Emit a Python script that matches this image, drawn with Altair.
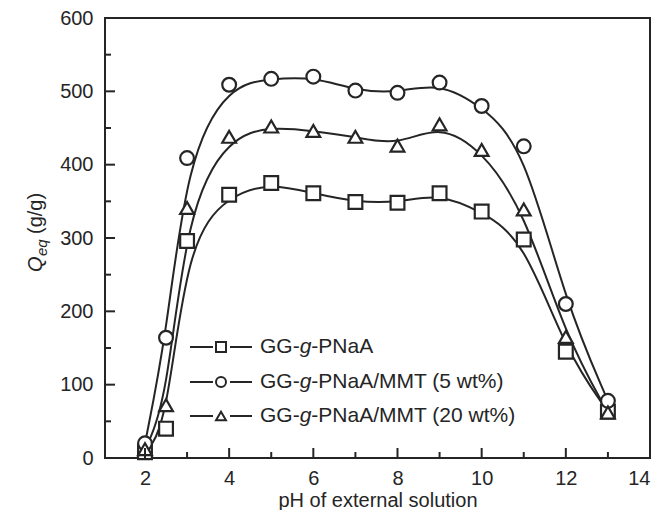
import altair as alt
import pandas as pd

# ---------------- data ----------------
series = ["GG-g-PNaA", "GG-g-PNaA/MMT (5 wt%)", "GG-g-PNaA/MMT (20 wt%)"]
shapes = ["square", "circle", "triangle-up"]
ph = [2, 2.5, 3, 4, 5, 6, 7, 8, 9, 10, 11, 12, 13]
q_pnaa = [8, 40, 296, 359, 375, 361, 349, 348, 361, 336, 298, 145, 63]
q_mmt5 = [20, 164, 409, 509, 517, 520, 501, 498, 512, 480, 425, 210, 78]
q_mmt20 = [12, 72, 341, 438, 452, 446, 438, 426, 455, 420, 339, 165, 62]

x_major = [2, 4, 6, 8, 10, 12]
x_minor = [3, 5, 7, 9, 11, 13]
y_major = [100, 200, 300, 400, 500]
y_minor = [50, 150, 250, 350, 450, 550]
x_labels = [2, 4, 6, 8, 10, 12, 14]
y_labels = [0, 100, 200, 300, 400, 500, 600]
x_title = "pH of external solution"

rows = []
for name, vals in zip(series, [q_pnaa, q_mmt5, q_mmt20]):
    for p, q in zip(ph, vals):
        rows.append({"series": name, "pH": p, "Q": q})
df = pd.DataFrame(rows)

INK = "#252525"
FONT = "Liberation Sans"
W, H = 545, 440

xscale = alt.Scale(domain=[1.05, 14], nice=False, zero=False)
yscale = alt.Scale(domain=[0, 600], nice=False)
xaxis = alt.Axis(values=x_labels, title=None, labelPadding=10, format="d")
yaxis = alt.Axis(values=y_labels, title=None, labelPadding=12, format="d")

base = alt.Chart(df)

lines = base.mark_line(interpolate="basis", color=INK, strokeWidth=2).encode(
    x=alt.X("pH:Q", scale=xscale, axis=xaxis),
    y=alt.Y("Q:Q", scale=yscale, axis=yaxis),
    detail="series:N",
)

points = base.mark_point(filled=True, fill="white", stroke=INK, strokeWidth=2.2,
                         size=190, opacity=1).encode(
    x=alt.X("pH:Q", scale=xscale, axis=xaxis),
    y=alt.Y("Q:Q", scale=yscale, axis=yaxis),
    shape=alt.Shape("series:N", scale=alt.Scale(domain=series, range=shapes), legend=None),
)

def xticks(vals, length):
    d = pd.DataFrame({"pH": vals})
    return alt.Chart(d).mark_rule(color=INK, strokeWidth=2).encode(
        x=alt.X("pH:Q", scale=xscale, axis=xaxis),
        y=alt.value(H), y2=alt.value(H - length))

def yticks(vals, length):
    d = pd.DataFrame({"Q": vals})
    return alt.Chart(d).mark_rule(color=INK, strokeWidth=2).encode(
        y=alt.Y("Q:Q", scale=yscale, axis=yaxis),
        x=alt.value(0), x2=alt.value(length))

layers = [lines, points,
          xticks(x_major, 10), xticks(x_minor, 6),
          yticks(y_major, 10), yticks(y_minor, 6)]

# ---------------- legend (manual, inside plot) ----------------
one = pd.DataFrame({"a": [0]})
row_y = [329, 364, 398]
LFS = 21
for name, shp, yy in zip(series, shapes, row_y):
    c = alt.Chart(one)
    layers.append(c.mark_rule(color=INK, strokeWidth=2).encode(
        x=alt.value(85), x2=alt.value(108), y=alt.value(yy)))
    layers.append(c.mark_rule(color=INK, strokeWidth=2).encode(
        x=alt.value(125), x2=alt.value(147), y=alt.value(yy)))
    layers.append(c.mark_point(shape=shp, filled=True, fill="white", stroke=INK,
                               strokeWidth=2, size=100, opacity=1).encode(
        x=alt.value(116), y=alt.value(yy)))
    p1, p2, p3 = "GG-", "g", name[4:]
    x0 = 155
    w1 = (0.778 * 2 + 0.333) * LFS
    w2 = 0.556 * LFS
    layers.append(c.mark_text(text=p1, font=FONT, fontSize=LFS, color=INK,
                              align="left", baseline="middle").encode(
        x=alt.value(x0), y=alt.value(yy)))
    layers.append(c.mark_text(text=p2, font=FONT, fontSize=LFS, color=INK,
                              fontStyle="italic", align="left", baseline="middle").encode(
        x=alt.value(x0 + w1), y=alt.value(yy)))
    layers.append(c.mark_text(text=p3, font=FONT, fontSize=LFS, color=INK,
                              align="left", baseline="middle").encode(
        x=alt.value(x0 + w1 + w2), y=alt.value(yy)))

# ---------------- axis titles (manual) ----------------
c = alt.Chart(one)
layers.append(c.mark_text(text=x_title, font=FONT, fontSize=20, color=INK,
                          align="center", baseline="alphabetic").encode(
    x=alt.value(273), y=alt.value(489)))
layers.append(c.mark_text(text="Q", font=FONT, fontSize=20, fontStyle="italic", color=INK,
                          angle=270, align="left", baseline="alphabetic").encode(
    x=alt.value(-63), y=alt.value(254)))
layers.append(c.mark_text(text="eq", font=FONT, fontSize=15, fontStyle="italic", color=INK,
                          angle=270, align="left", baseline="alphabetic").encode(
    x=alt.value(-58), y=alt.value(238)))
layers.append(c.mark_text(text="(g/g)", font=FONT, fontSize=20, color=INK,
                          angle=270, align="left", baseline="alphabetic").encode(
    x=alt.value(-63), y=alt.value(216)))

chart = alt.layer(*layers).properties(
    width=W, height=H,
    autosize="none",
    padding={"left": 97, "top": 10, "right": 5, "bottom": 52},
).configure_view(
    stroke=INK, strokeWidth=2
).configure_axis(
    grid=False, domain=False, ticks=False,
    labelFont=FONT, labelFontSize=20, labelColor=INK,
)

chart.save("out.html", embed_options={"renderer": "svg", "actions": False})
